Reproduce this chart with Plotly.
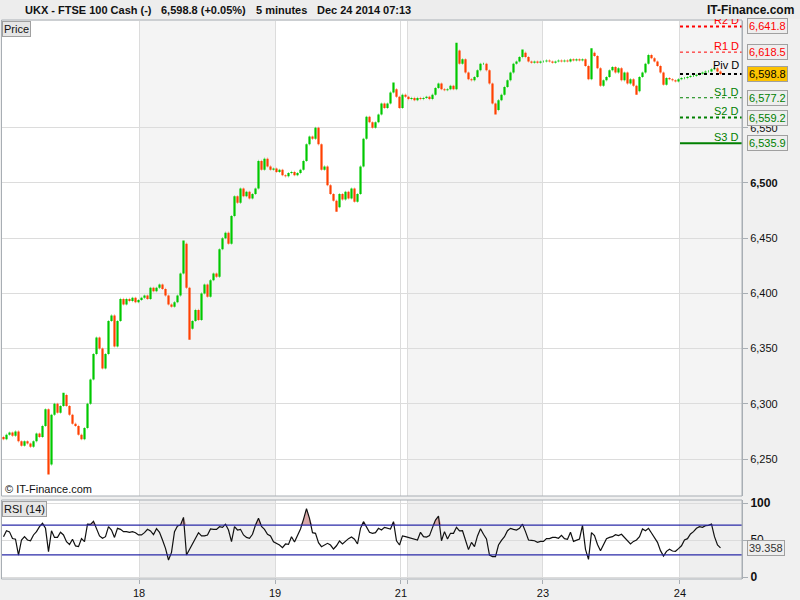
import plotly.graph_objects as go

# ---------------- data ----------------
closes = [6268,6272,6274,6271,6275,6266,6262,6266,6264,6261,
          6266,6273,6270,6280,6295,6245,6290,6300,6292,6298,
          6308,6298,6290,6282,6280,6272,6268,6278,6300,6322,
          6345,6360,6350,6332,6345,6375,6380,6352,6375,6395,
          6390,6395,6393,6396,6392,6394,6396,6398,6395,6405,
          6402,6405,6408,6404,6398,6390,6388,6392,6398,6418,
          6445,6405,6368,6375,6385,6376,6400,6408,6397,6412,
          6418,6415,6440,6450,6455,6445,6470,6488,6482,6495,
          6488,6492,6486,6490,6495,6520,6512,6522,6515,6512,
          6513,6510,6512,6507,6506,6509,6510,6507,6509,6512,
          6520,6535,6542,6540,6550,6535,6512,6515,6498,6490,
          6484,6478,6490,6485,6492,6486,6495,6483,6490,6515,
          6540,6560,6555,6550,6555,6562,6572,6568,6572,6582,
          6585,6578,6568,6580,6578,6576,6577,6575,6577,6576,
          6577,6578,6576,6580,6586,6590,6585,6584,6585,6588,
          6585,6620,6608,6612,6600,6594,6593,6596,6602,6608,
          6608,6602,6590,6572,6566,6575,6580,6587,6593,6600,
          6608,6610,6614,6618,6614,6610,6609,6610,6609,6610,
          6610,6611,6610,6609,6610,6611,6610,6611,6610,6612,
          6611,6612,6611,6612,6606,6594,6618,6615,6604,6588,
          6593,6596,6602,6605,6600,6604,6593,6600,6590,6594,
          6588,6583,6596,6600,6608,6616,6613,6610,6606,6600,
          6589,6595,6594,6593,6592,6594,6595,6595,6596,6597,
          6597,6598,6599,6600,6601,6601,6603,6604,6601,6598.8]
first_open = 6270
spike_idx = [15, 20, 60, 62, 111, 130, 151, 164, 173, 196, 211]
spike_val = [6236, 6310, 6448, 6358, 6474, 6591, 6627, 6562, 6621, 6622, 6580]

rsi = [54.5,62.5,61,52,51,29.7,50,54.5,50,49,
       56.8,61.3,68,72.5,65.8,34.2,62.5,53.5,53.5,60.4,
       56.8,47.7,44,51,42,41,52,47.7,71.5,71,
       75.2,65.8,55.5,52.3,54.5,68,63.5,53.5,65.8,64.4,
       61.3,61.3,60.4,61.3,59.9,56.8,56.8,59.9,64.4,62.2,
       57.2,65.3,60.4,50,38.7,23,33.3,61.3,68.9,70.3,
       80.6,29.7,37.4,46.4,52.3,59.9,55.5,55.5,56.8,64.9,
       64.4,64.4,68,67.1,71.4,63.5,47.7,68,63.5,64.4,
       56.8,53.5,52.3,57.7,70.3,79.3,68.5,64.4,57.7,55.5,
       47.7,46,43.2,39.6,44.6,44,54.5,47.3,56.8,64.9,
       77.9,92.3,79.3,59.9,59,46.4,41,43.2,45.5,43.2,
       37.8,42.2,48.6,44.6,48.6,51.8,54,51,44.6,65.8,
       74.8,68,60.4,59,59.9,65.8,63.5,67.1,65.8,64.9,
       74.8,49,43.2,55.5,54.5,53.5,51.8,51,50,60.4,
       54.5,54,55.9,66.7,77,82.4,49,61.3,51.4,59,
       59,67.1,62.2,62.5,48.6,37,46.8,41,55.5,65.3,
       57.7,51.4,29.7,27.5,27.5,43.2,49.5,54.5,62.5,65.8,
       64.4,63.5,65.8,71.4,61.3,50,49.5,49,46.8,48.1,
       48.1,51.8,51.8,53.5,53.5,52.3,56.3,51.8,51,60.4,
       48.1,50,51.4,69.8,37.4,23.9,59.9,55.9,44,35.6,
       43.7,51.8,53.5,54.5,57.2,55.9,57.7,53.2,49,44.6,
       48.1,50,54.5,64.9,62.5,65.8,59.4,53.5,46.8,35.6,
       28.4,34.7,37.4,35.1,34.7,38.3,42.2,50,51.8,58.1,
       61.3,65.8,68,67.1,69.4,69.8,71.6,54.5,43.2,39.358]
rsi_upper, rsi_lower = 70, 30

day_bounds = [45.2, 90.5, 132.5, 134.8, 179.8, 225.5]
day_labels = ["18", "19", "21", "", "23", "24"]
shaded_days = [(45.2, 90.5), (134.8, 179.8), (225.5, 246.2)]

price_ticks = [6250, 6300, 6350, 6400, 6450, 6500, 6550]
price_tick_text = ["6,250", "6,300", "6,350", "6,400", "6,450", "<b>6,500</b>", "6,550"]

pivot_names = ["R2 D", "R1 D", "Piv D", "S1 D", "S2 D", "S3 D"]
pivot_vals = [6641.8, 6618.5, 6598.8, 6577.2, 6559.2, 6535.9]
pivot_text = ["6,641.8", "6,618.5", "6,598.8", "6,577.2", "6,559.2", "6,535.9"]
pivot_colors = ["#ff0000", "#ff0000", "#000000", "#008000", "#008000", "#008000"]
pivot_dash = ["dash", "dash", "dash", "dash", "dash", "solid"]
pivot_width = [2, 1, 2, 1, 2, 2]

title_parts = ["UKX - FTSE 100 Cash (-)", "6,598.8 (+0.05%)", "5 minutes", "Dec 24 2014 07:13"]
last_rsi_text = "39.358"

# ---------------- derived candle values ----------------
n = len(closes)
idx = list(range(n))
opens = [first_open] + closes[:-1]
highs = [max(o, c) for o, c in zip(opens, closes)]
lows = [min(o, c) for o, c in zip(opens, closes)]
for k, v in zip(spike_idx, spike_val):
    if v > highs[k]:
        highs[k] = v
    if v < lows[k]:
        lows[k] = v

W, H = 800, 600
def px(x):
    return x / W
def py(y):
    return 1 - y / H

FONT = "Liberation Sans, Arial, sans-serif"
GREEN = "#00c800"
RED = "#ff4000"

fig = go.Figure()

fig.add_trace(go.Ohlc(
    x=idx, open=opens, high=highs, low=lows, close=closes,
    increasing=dict(line=dict(color=GREEN, width=2.2)),
    decreasing=dict(line=dict(color=RED, width=2.2)),
    tickwidth=0.12, xaxis="x", yaxis="y", showlegend=False, hoverinfo="skip"))

fig.add_trace(go.Scatter(x=idx, y=[rsi_upper] * n, mode="lines",
                         line=dict(width=0, color="rgba(0,0,0,0)"),
                         xaxis="x2", yaxis="y2", showlegend=False, hoverinfo="skip"))
fig.add_trace(go.Scatter(x=idx, y=[max(v, rsi_upper) for v in rsi], mode="lines",
                         line=dict(width=0, color="rgba(0,0,0,0)"), fill="tonexty",
                         fillcolor="#d9a9a9",
                         xaxis="x2", yaxis="y2", showlegend=False, hoverinfo="skip"))
fig.add_trace(go.Scatter(x=idx, y=rsi, mode="lines", line=dict(color="#111111", width=1.2),
                         xaxis="x2", yaxis="y2", showlegend=False, hoverinfo="skip"))

shapes = []
for a, b in shaded_days:
    shapes.append(dict(type="rect", xref="x", yref="y domain", x0=a, x1=b, y0=0, y1=1,
                       fillcolor="#f4f4f4", line=dict(width=0), layer="below"))
    shapes.append(dict(type="rect", xref="x2", yref="y2 domain", x0=a, x1=b, y0=0, y1=1,
                       fillcolor="#efefef", line=dict(width=0), layer="below"))
for lvl in (rsi_upper, rsi_lower):
    shapes.append(dict(type="line", xref="x2 domain", yref="y2", x0=0, x1=1, y0=lvl, y1=lvl,
                       line=dict(color="#2a2aa8", width=1.2)))
for v, c, d, w in zip(pivot_vals, pivot_colors, pivot_dash, pivot_width):
    shapes.append(dict(type="line", xref="x", yref="y", x0=day_bounds[-1], x1=246.2, y0=v, y1=v,
                       line=dict(color=c, width=w, dash=d if d == "solid" else "3px,3px")))
shapes.append(dict(type="rect", xref="paper", yref="paper", x0=px(1.5), x1=px(742),
                   y0=py(496), y1=py(20), line=dict(color="#a8aeb4", width=1)))
shapes.append(dict(type="rect", xref="paper", yref="paper", x0=px(1.5), x1=px(742),
                   y0=py(579), y1=py(500), line=dict(color="#a8aeb4", width=1)))
shapes += [
    dict(type="line", xref="paper", yref="paper", x0=px(6), x1=px(6), y0=py(17), y1=py(7),
         line=dict(color="#a01010", width=1)),
    dict(type="rect", xref="paper", yref="paper", x0=px(3), x1=px(9), y0=py(15), y1=py(9),
         fillcolor="#e04040", line=dict(color="#a01010", width=1)),
    dict(type="line", xref="paper", yref="paper", x0=px(14), x1=px(14), y0=py(17), y1=py(2),
         line=dict(color="#108010", width=1)),
    dict(type="rect", xref="paper", yref="paper", x0=px(11), x1=px(17), y0=py(15), y1=py(5),
         fillcolor="#30d030", line=dict(color="#108010", width=1)),
]

ann = []
label_y = [20, 46, 65, 92, 111, 137]
for name, c, yy in zip(pivot_names, pivot_colors, label_y):
    ann.append(dict(xref="paper", yref="paper", x=px(741), y=py(yy), xanchor="right", yanchor="middle",
                    text=name, showarrow=False, font=dict(family=FONT, size=11, color=c)))
ann.append(dict(xref="paper", yref="paper", x=0, y=1, xanchor="left", yanchor="top", text=" ",
                showarrow=False, width=800, height=19, bgcolor="#ededed", borderwidth=0,
                borderpad=0, font=dict(size=10)))
header_x = [23, 159, 254, 315]
for t, xx in zip(title_parts, header_x):
    ann.append(dict(xref="paper", yref="paper", x=px(xx), y=py(10), xanchor="left", yanchor="middle",
                    text="<b>%s</b>" % t, showarrow=False, font=dict(family=FONT, size=11, color="#111")))
ann.append(dict(xref="paper", yref="paper", x=px(796), y=py(10), xanchor="right", yanchor="middle",
                text="<b>IT-Finance.com</b>", showarrow=False, font=dict(family=FONT, size=12, color="#111")))
for v, t, c in zip(pivot_vals, pivot_text, pivot_colors):
    is_piv = c == "#000000"
    ann.append(dict(xref="paper", yref="y", x=px(747), y=v, xanchor="left", yanchor="middle",
                    text=t, showarrow=False, bgcolor="#fcc200" if is_piv else "#eeeeee",
                    bordercolor="#a0a0a0", borderwidth=1, borderpad=1,
                    font=dict(family=FONT, size=11, color=c if not is_piv else "#000")))
ann.append(dict(xref="paper", yref="y2", x=px(747), y=rsi[-1], xanchor="left", yanchor="middle",
                text=last_rsi_text, showarrow=False, bgcolor="#eeeeee", bordercolor="#a0a0a0",
                borderwidth=1, borderpad=1, font=dict(family=FONT, size=11, color="#333")))
ann.append(dict(xref="paper", yref="paper", x=px(1.5), y=py(21), xanchor="left", yanchor="top",
                text="Price", showarrow=False, bgcolor="#e6e6e6", bordercolor="#a0a0a0",
                borderwidth=1, borderpad=1, font=dict(family=FONT, size=11, color="#111")))
ann.append(dict(xref="paper", yref="paper", x=px(1.5), y=py(501), xanchor="left", yanchor="top",
                text="RSI (14)", showarrow=False, bgcolor="#e6e6e6", bordercolor="#a0a0a0",
                borderwidth=1, borderpad=1, font=dict(family=FONT, size=11, color="#111")))
ann.append(dict(xref="paper", yref="paper", x=px(3), y=py(489), xanchor="left", yanchor="middle",
                text="© IT-Finance.com", showarrow=False, font=dict(family=FONT, size=11, color="#111")))

xr = [-0.5, 246.17]
fig.update_layout(
    width=W, height=H, margin=dict(l=0, r=0, t=0, b=0, autoexpand=False),
    paper_bgcolor="#f0f0f0", plot_bgcolor="#ffffff",
    font=dict(family=FONT, size=11, color="#111"),
    showlegend=False,
    xaxis=dict(domain=[px(2), px(742)], range=xr, anchor="y", rangeslider=dict(visible=False),
               tickvals=day_bounds, ticktext=day_labels, showticklabels=False, automargin=False,
               showgrid=True, gridcolor="#dcdcdc", zeroline=False, ticks=""),
    yaxis=dict(domain=[py(496), py(21)], range=[6216.5, 6646.7], side="right", anchor="x",
               tickvals=price_ticks, ticktext=price_tick_text, showgrid=True, gridcolor="#dcdcdc",
               zeroline=False, ticks="outside", ticklen=5, tickcolor="#a8aeb4", automargin=False,
               showline=True, linecolor="#a8aeb4", tickfont=dict(size=11, color="#111")),
    xaxis2=dict(domain=[px(2), px(742)], range=xr, anchor="y2", automargin=False,
                tickvals=day_bounds, ticktext=day_labels, showgrid=True, gridcolor="#dcdcdc",
                zeroline=False, ticks="outside", ticklen=4, tickcolor="#a8aeb4",
                tickfont=dict(size=11, color="#111")),
    yaxis2=dict(domain=[py(579), py(500)], range=[-2.7, 104.05], side="right", anchor="x2",
                tickvals=[0, 50, 100], ticktext=["<b>0</b>", "50", "<b>100</b>"], automargin=False,
                showgrid=True, gridcolor="#dcdcdc", zeroline=False, ticks="outside", ticklen=5,
                tickcolor="#a8aeb4", showline=True, linecolor="#a8aeb4",
                tickfont=dict(size=12, color="#111")),
    shapes=shapes, annotations=ann,
)

fig.write_html("out.html", config={"displayModeBar": False},
               post_script="document.body.style.margin='0';document.body.style.overflow='hidden';")
